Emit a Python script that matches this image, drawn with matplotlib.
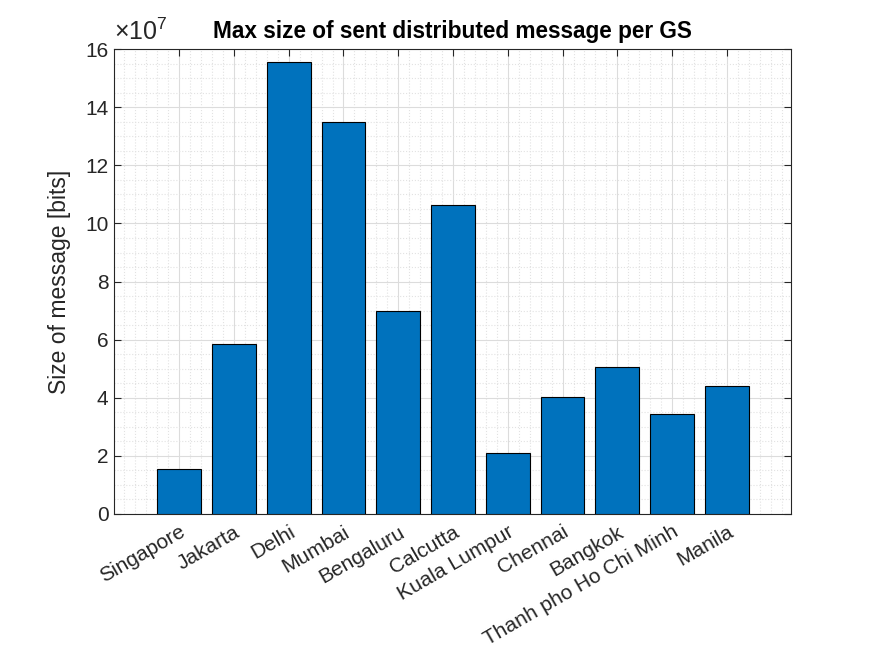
import matplotlib.pyplot as plt
from matplotlib.ticker import MultipleLocator, FuncFormatter

plt.rcParams['font.family'] = ['Liberation Sans', 'DejaVu Sans']
plt.rcParams['mathtext.fontset'] = 'custom'
plt.rcParams['mathtext.rm'] = 'Liberation Sans'

cities = ['Singapore', 'Jakarta', 'Delhi', 'Mumbai', 'Bengaluru', 'Calcutta',
          'Kuala Lumpur', 'Chennai', 'Bangkok', 'Thanh pho Ho Chi Minh', 'Manila']
msg_size = [1.55e7, 5.86e7, 15.57e7, 13.51e7, 7.0e7, 10.65e7,
            2.10e7, 4.02e7, 5.07e7, 3.45e7, 4.41e7]

fig = plt.figure(figsize=(8.74, 6.56), dpi=100)
ax = fig.add_axes([0.1304, 0.2165, 0.7746, 0.7085])

pos = list(range(1, len(cities) + 1))
ax.bar(pos, msg_size, width=0.8, color='#0072BD', edgecolor='black', linewidth=0.8, zorder=3)

ax.set_xlim(-0.19, 12.17)
ax.set_ylim(0, 16e7)
ax.set_xticks(pos)
ax.set_xticklabels(cities, rotation=30, ha='right', rotation_mode='anchor')
ax.yaxis.set_major_locator(MultipleLocator(2e7))
ax.yaxis.set_minor_locator(MultipleLocator(0.5e7))
ax.xaxis.set_minor_locator(MultipleLocator(0.2))
ax.yaxis.set_major_formatter(FuncFormatter(lambda v, p: '%g' % (v / 1e7)))
# multiplier drawn like matlab's exponent label
ax.text(0.0, 1.008, r'$\times\mathregular{10^{7}}$', transform=ax.transAxes,
        fontsize=18, color='#262626', ha='left', va='bottom')

ax.grid(True, which='major', color='#dcdcdc', linewidth=0.8, zorder=0)
ax.grid(True, which='minor', color='#e2e2e2', linestyle=':', linewidth=0.8, zorder=0)
ax.set_axisbelow(True)

ax.tick_params(which='major', direction='in', length=5, top=True, right=True,
               labelsize=15, colors='#262626', width=0.8, pad=4)
ax.tick_params(axis='x', pad=6)
ax.tick_params(which='minor', length=0, top=True, right=True)
for s in ax.spines.values():
    s.set_color('#262626')
    s.set_linewidth(0.8)

ax.set_ylabel('Size of message [bits]', fontsize=16.5, color='#262626', labelpad=10)
ax.set_title('Max size of sent distributed message per GS', fontsize=16.3, fontweight='bold', pad=8)

fig.savefig('out.png', dpi=100)
